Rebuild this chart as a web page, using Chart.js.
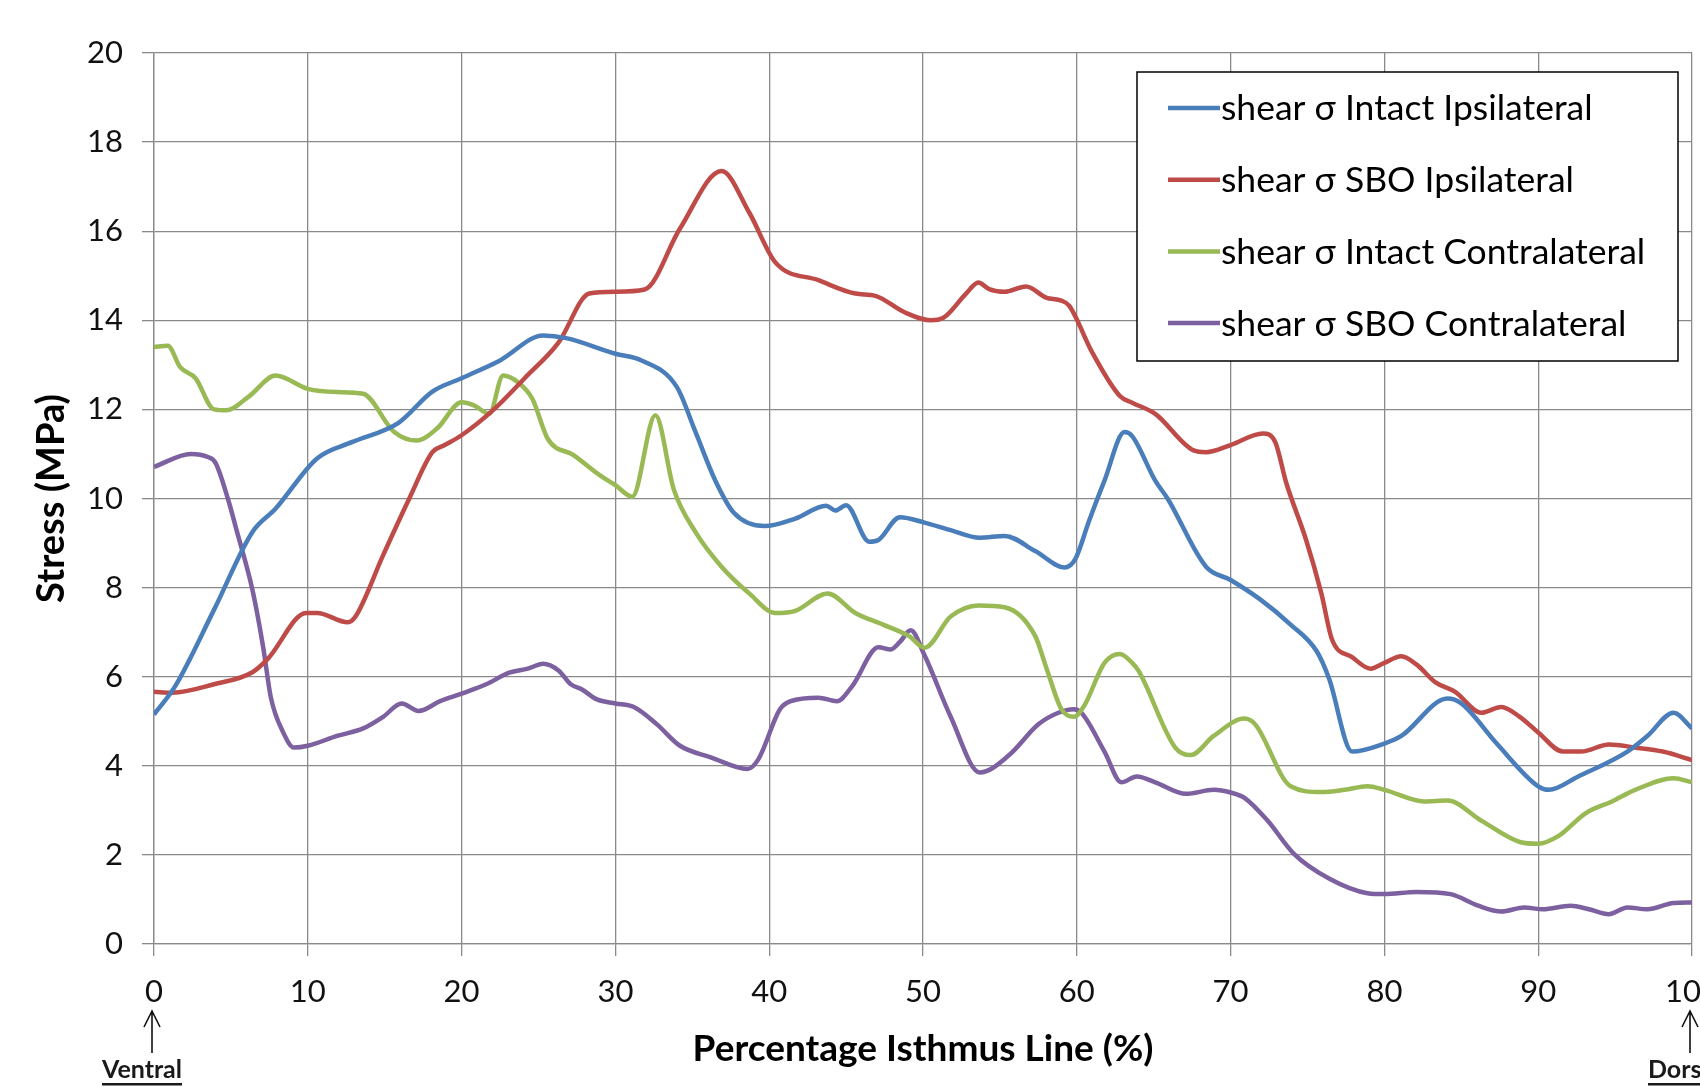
<!DOCTYPE html>
<html>
<head>
<meta charset="utf-8">
<script src="https://cdn.jsdelivr.net/npm/chart.js@4/dist/chart.umd.min.js"></script>
<style>
  html, body { margin: 0; padding: 0; background: #fff; overflow: hidden; }
  #wrap { width: 1760px; height: 1087px; }
</style>
</head>
<body>
<div id="wrap"><canvas id="stressChart" width="1760" height="1087"></canvas></div>
<script>
// x = percentage along isthmus line, y = shear stress (MPa)
const intactIpsiX = [0, 1.4, 3.9, 6.4, 7.9, 10.6, 12.9, 15.9, 18.1, 20, 22.5, 25.3, 26.8, 30, 31.7, 34, 35.2, 36.5, 37.7, 39.7, 41.7, 43.7, 44.3, 45, 46.5, 47.1, 48.5, 50.1, 51.8, 53.7, 55.3, 57.3, 59.2, 59.9, 60.8, 61.8, 63.1, 63.6, 65.1, 65.9, 68.4, 70, 71.9, 73.9, 75.6, 76.4, 77.9, 80, 81.1, 84.1, 85, 87.3, 90, 90.7, 92.6, 95.8, 97.1, 98.8, 100];
const intactIpsiY = [5.15, 5.8, 7.5, 9.25, 9.77, 10.9, 11.27, 11.7, 12.4, 12.7, 13.1, 13.66, 13.6, 13.25, 13.1, 12.5, 11.5, 10.4, 9.68, 9.38, 9.55, 9.84, 9.73, 9.85, 9.03, 9.07, 9.58, 9.46, 9.29, 9.12, 9.16, 8.82, 8.45, 8.64, 9.5, 10.4, 11.49, 11.4, 10.4, 10.0, 8.47, 8.17, 7.74, 7.17, 6.57, 5.96, 4.32, 4.5, 4.67, 5.51, 5.4, 4.5, 3.54, 3.46, 3.76, 4.32, 4.67, 5.19, 4.84];

const sboIpsiX = [0, 1.2, 3.9, 6.4, 7.4, 9.9, 10.6, 12.6, 13.1, 14.9, 16.6, 18.1, 18.9, 20, 22.1, 24.1, 26.3, 28.3, 30, 31.9, 34.2, 36.9, 38.7, 40.4, 43.2, 45.6, 46.9, 48.8, 50.5, 51.3, 52.8, 53.6, 54.3, 55.3, 56.7, 58, 59, 59.5, 61, 62.8, 63.6, 65.1, 67.6, 68.4, 70, 72.1, 72.9, 73.6, 74.9, 75.9, 76.6, 77.9, 79.1, 80, 81.1, 82.1, 83.3, 84.6, 86.3, 87.6, 88.8, 90, 91.6, 92.8, 94.6, 96.3, 98.1, 100];
const sboIpsiY = [5.66, 5.64, 5.83, 6.1, 6.4, 7.43, 7.43, 7.22, 7.35, 8.73, 10.0, 11.04, 11.2, 11.42, 12.0, 12.7, 13.5, 14.6, 14.64, 14.69, 16.06, 17.35, 16.42, 15.3, 14.9, 14.6, 14.55, 14.18, 14.0, 14.05, 14.6, 14.85, 14.7, 14.64, 14.76, 14.51, 14.44, 14.33, 13.28, 12.3, 12.15, 11.9, 11.08, 11.04, 11.2, 11.46, 11.27, 10.37, 9.08, 7.87, 6.83, 6.44, 6.18, 6.31, 6.46, 6.27, 5.88, 5.66, 5.19, 5.32, 5.1, 4.75, 4.32, 4.32, 4.48, 4.41, 4.32, 4.13];

const intactContraX = [0, 0.9, 1.7, 2.7, 3.9, 4.7, 6.2, 7.9, 10, 11.9, 13.6, 15.6, 17.1, 18.4, 20, 20.8, 21.8, 22.7, 23.7, 24.6, 25.6, 27.3, 29, 30, 31.1, 32.6, 33.8, 35.2, 36.9, 38.7, 40.4, 41.7, 43.8, 45.6, 47.4, 49.1, 50.1, 51.8, 53.6, 55.3, 57.3, 58, 59, 59.8, 60.5, 61.8, 62.8, 63.6, 64, 66.4, 67.4, 68.9, 70.9, 71.6, 73.9, 75.9, 77.4, 78.9, 80, 82.6, 84.1, 86.3, 88.8, 90, 91.3, 93.1, 94.8, 96.3, 98.8, 100];
const intactContraY = [13.4, 13.43, 12.95, 12.7, 12.0, 11.98, 12.3, 12.76, 12.46, 12.39, 12.35, 11.5, 11.3, 11.57, 12.16, 12.09, 11.9, 12.76, 12.6, 12.24, 11.34, 10.97, 10.52, 10.3, 10.04, 11.87, 10.2, 9.25, 8.47, 7.87, 7.43, 7.48, 7.87, 7.43, 7.17, 6.91, 6.65, 7.35, 7.6, 7.56, 6.91, 6.22, 5.27, 5.1, 5.36, 6.31, 6.51, 6.31, 6.14, 4.41, 4.24, 4.67, 5.06, 4.93, 3.54, 3.41, 3.46, 3.54, 3.46, 3.2, 3.22, 2.77, 2.29, 2.25, 2.42, 2.94, 3.2, 3.46, 3.72, 3.63];

const sboContraX = [0, 2.4, 3.5, 4.0, 4.8, 5.4, 6.4, 7.1, 7.6, 8.4, 9.1, 10, 11.9, 13.6, 14.9, 16.1, 17.2, 18.6, 20, 21.6, 23.1, 24.3, 25.3, 26.3, 27.1, 27.8, 28.8, 30, 31.2, 32.7, 34.2, 36.2, 38.6, 39.3, 40.7, 41.4, 43.2, 44.4, 45.4, 47.1, 47.9, 48.5, 49.2, 50.1, 51.8, 53.7, 55.6, 57.5, 58.8, 59.8, 60.3, 61.8, 62.9, 63.9, 65.1, 67.1, 68.9, 70, 70.9, 72.4, 74.1, 76.4, 78.9, 80, 82.1, 84.3, 86.1, 87.6, 89.1, 90.3, 92.1, 93.3, 94.6, 95.8, 97.1, 98.8, 100];
const sboContraY = [10.71, 11.0, 10.93, 10.8, 10.0, 9.25, 7.95, 6.66, 5.53, 4.75, 4.41, 4.45, 4.67, 4.84, 5.1, 5.4, 5.23, 5.45, 5.62, 5.83, 6.09, 6.18, 6.29, 6.14, 5.83, 5.72, 5.49, 5.4, 5.32, 4.93, 4.45, 4.19, 3.93, 4.15, 5.27, 5.45, 5.53, 5.45, 5.79, 6.66, 6.61, 6.78, 7.04, 6.48, 5.1, 3.85, 4.24, 4.93, 5.19, 5.27, 5.19, 4.32, 3.63, 3.76, 3.63, 3.37, 3.46, 3.4, 3.28, 2.77, 2.03, 1.47, 1.14, 1.12, 1.17, 1.12, 0.86, 0.73, 0.82, 0.78, 0.86, 0.78, 0.67, 0.82, 0.78, 0.92, 0.93];

const seriesLabels = ['shear σ Intact Ipsilateral', 'shear σ SBO Ipsilateral', 'shear σ Intact Contralateral', 'shear σ SBO Contralateral'];
const seriesColors = ['#4a7ebb', '#be4b48', '#98b954', '#7d60a0'];

const FONT = "Lato, 'Open Sans', 'DejaVu Sans', sans-serif";
const GRID = '#8a8a8a';

function toPoints(xs, ys) {
    return xs.map((x, i) => ({ x: x, y: ys[i] }));
}

const pointSets = [
    toPoints(intactIpsiX, intactIpsiY),
    toPoints(sboIpsiX, sboIpsiY),
    toPoints(intactContraX, intactContraY),
    toPoints(sboContraX, sboContraY)
];

// boxed legend sitting inside the plot, top right
const boxedLegend = {
    id: 'boxedLegend',
    afterDatasetsDraw(chart) {
        const ctx = chart.ctx;
        const left = 1137, top = 72, w = 541, h = 289;
        ctx.save();
        ctx.fillStyle = '#fff';
        ctx.fillRect(left, top, w, h);
        ctx.strokeStyle = '#000';
        ctx.lineWidth = 1.5;
        ctx.strokeRect(left, top, w, h);
        ctx.font = '35.5px ' + FONT;
        ctx.textBaseline = 'middle';
        ctx.textAlign = 'left';
        chart.data.datasets.forEach((ds, i) => {
            const y = 108 + i * 71.7;
            ctx.strokeStyle = ds.borderColor;
            ctx.lineWidth = 4.5;
            ctx.beginPath();
            ctx.moveTo(1168, y);
            ctx.lineTo(1220, y);
            ctx.stroke();
            ctx.fillStyle = '#000';
            ctx.fillText(ds.label, 1221, y + 1);
        });
        ctx.restore();
    }
};

// Ventral / Dorsal markers under the ends of the x axis
const endMarkers = {
    id: 'endMarkers',
    afterDraw(chart) {
        const ctx = chart.ctx;
        const xs = chart.scales.x;
        // [axis value, text, text left offset from the tick]
        const marks = [[0, 'Ventral', -52], [100, 'Dorsal', -44]];
        ctx.save();
        marks.forEach(([v, txt, off]) => {
            const px = xs.getPixelForValue(v);
            const ax = px - 2;
            ctx.strokeStyle = '#111';
            ctx.lineWidth = 1.6;
            ctx.beginPath();
            ctx.moveTo(ax, 1053);
            ctx.lineTo(ax, 1011);
            ctx.moveTo(ax - 8, 1027);
            ctx.lineTo(ax, 1011);
            ctx.lineTo(ax + 8, 1027);
            ctx.stroke();
            ctx.font = 'bold 25px ' + FONT;
            ctx.textAlign = 'left';
            ctx.textBaseline = 'middle';
            ctx.fillStyle = '#1a1a1a';
            const lx = px + off;
            ctx.fillText(txt, lx, 1070);
            const tw = ctx.measureText(txt).width;
            ctx.fillRect(lx, 1083, tw, 2.5);
        });
        ctx.restore();
    }
};

const ctx = document.getElementById('stressChart').getContext('2d');
new Chart(ctx, {
    type: 'line',
    data: {
        datasets: pointSets.map((pts, i) => ({
            label: seriesLabels[i],
            data: pts,
            borderColor: seriesColors[i],
            backgroundColor: seriesColors[i],
            borderWidth: 4.5,
            pointRadius: 0,
            fill: false,
            cubicInterpolationMode: 'monotone'
        }))
    },
    options: {
        responsive: false,
        animation: false,
        devicePixelRatio: 1,
        layout: { padding: { top: 53, right: 68, left: 0, bottom: 0 } },
        plugins: {
            legend: { display: false },
            tooltip: { enabled: false }
        },
        scales: {
            x: {
                type: 'linear',
                min: 0,
                max: 100,
                afterFit: s => { s.height = 143; },
                ticks: { stepSize: 10, padding: 17, color: '#111', font: { family: FONT, size: 31 } },
                grid: { color: GRID, lineWidth: 1.3, tickLength: 12 },
                border: { color: GRID, width: 1.3 },
                title: {
                    display: true,
                    text: 'Percentage Isthmus Line (%)',
                    color: '#000',
                    font: { family: FONT, size: 37, weight: 'bold' },
                    padding: { top: 0, bottom: 16 }
                }
            },
            y: {
                min: 0,
                max: 20,
                afterFit: s => { s.width = 154; },
                ticks: { stepSize: 2, padding: 19, color: '#111', font: { family: FONT, size: 31 } },
                grid: { color: GRID, lineWidth: 1.3, tickLength: 12 },
                border: { color: GRID, width: 1.3 },
                title: {
                    display: true,
                    text: 'Stress (MPa)',
                    color: '#000',
                    font: { family: FONT, size: 38, weight: 'bold' },
                    padding: { top: 29, bottom: 0 }
                }
            }
        }
    },
    plugins: [boxedLegend, endMarkers]
});
</script>
</body>
</html>
